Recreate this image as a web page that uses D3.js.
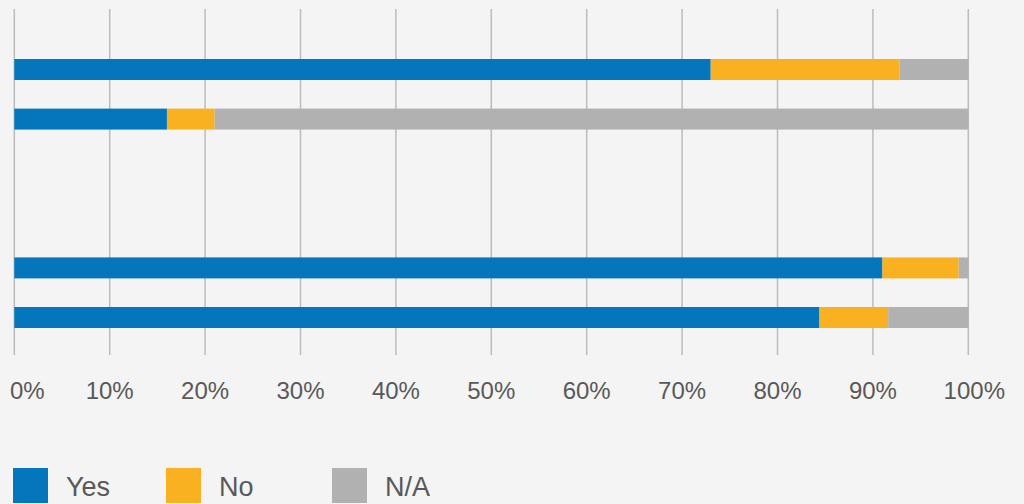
<!DOCTYPE html>
<html>
<head>
<meta charset="utf-8">
<script src="https://cdn.jsdelivr.net/npm/d3@7"></script>
<style>
  html, body { margin: 0; padding: 0; background: #f4f4f4; }
  svg { display: block; }
  text { font-family: "Liberation Sans", Arial, sans-serif; fill: #595959; }
</style>
</head>
<body>
<svg id="chart" width="1024" height="504"></svg>
<script>
// Rows from top to bottom; two empty rows separate the two pairs of bars.
const categories = ["Row 1", "Row 2", "Gap 1", "Gap 2", "Row 3", "Row 4"];
const seriesNames = ["Yes", "No", "N/A"];
const yesValues = [73, 16, null, null, 91, 84.4];
const noValues  = [19.8, 5, null, null, 8, 7.2];
const naValues  = [7.2, 79, null, null, 1, 8.4];
const tickValues = [0, 10, 20, 30, 40, 50, 60, 70, 80, 90, 100];
const tickLabels = ["0%", "10%", "20%", "30%", "40%", "50%", "60%", "70%", "80%", "90%", "100%"];
const colors = ["#0576bb", "#f9b122", "#b1b1b1"];

const svg = d3.select("#chart");

const x = d3.scaleLinear().domain([0, 100]).range([14.3, 968.3]);
const y = d3.scaleBand().domain(categories).range([44.7, 342.3])
  .paddingInner(0.577).paddingOuter(0.2885);

// gridlines
svg.append("g").selectAll("line").data(tickValues).join("line")
  .attr("x1", d => x(d)).attr("x2", d => x(d))
  .attr("y1", 9).attr("y2", 355)
  .attr("stroke", "#bcbcbc").attr("stroke-width", 1.5);

// stacked data
const rows = categories.map((c, i) => ({
  cat: c, Yes: yesValues[i], No: noValues[i], "N/A": naValues[i]
})).filter(r => r.Yes != null);
const stack = d3.stack().keys(seriesNames);
const layers = stack(rows);

svg.append("g").selectAll("g").data(layers).join("g")
  .attr("fill", (d, i) => colors[i])
  .selectAll("rect").data(d => d).join("rect")
  .attr("x", d => x(d[0]))
  .attr("width", d => x(d[1]) - x(d[0]))
  .attr("y", d => y(d.data.cat))
  .attr("height", y.bandwidth());

// tick labels
svg.append("g").selectAll("text").data(tickValues).join("text")
  .attr("x", (d, i) => i === 0 ? 10 : x(d) + (i === tickValues.length - 1 ? 6 : 0))
  .attr("y", 399)
  .attr("text-anchor", (d, i) => i === 0 ? "start" : "middle")
  .attr("font-size", 24)
  .text((d, i) => tickLabels[i]);

// legend
const legendX = [13, 166, 332];
const lg = svg.append("g").selectAll("g").data(seriesNames).join("g")
  .attr("transform", (d, i) => `translate(${legendX[i]},468)`);
lg.append("rect").attr("width", 35).attr("height", 35).attr("fill", (d, i) => colors[i]);
lg.append("text").attr("x", 53).attr("y", 28).attr("font-size", 27).text(d => d);
</script>
</body>
</html>
